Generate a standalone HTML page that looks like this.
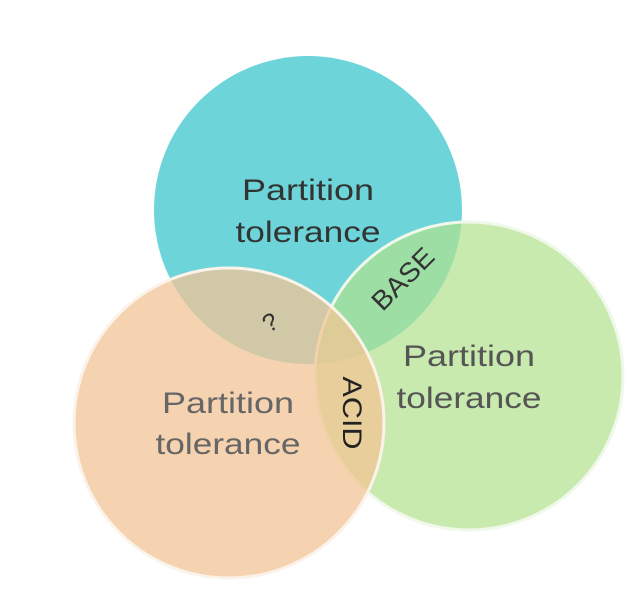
<!DOCTYPE html>
<html><head><style>html,body{margin:0;padding:0;background:#fff}</style></head><body>
<svg width="642" height="604" xmlns="http://www.w3.org/2000/svg" style="display:block;font-family:'Liberation Sans',sans-serif">
<circle cx="308" cy="210" r="154" fill="#6dd5d9"/>
<circle cx="469" cy="376" r="154" fill="rgb(178,225,141)" fill-opacity="0.7" stroke="#f0f8ea" stroke-width="3"/>
<circle cx="229" cy="423" r="155" fill="rgb(243,196,148)" fill-opacity="0.74" stroke="#fbf3ea" stroke-width="3"/>
<g font-size="30" text-anchor="middle">
<text x="308" y="200" fill="#333" textLength="132" lengthAdjust="spacingAndGlyphs">Partition</text>
<text x="308" y="242" fill="#333" textLength="145" lengthAdjust="spacingAndGlyphs">tolerance</text>
<text x="469" y="366" fill="#555" textLength="132" lengthAdjust="spacingAndGlyphs">Partition</text>
<text x="469" y="408" fill="#555" textLength="145" lengthAdjust="spacingAndGlyphs">tolerance</text>
<text x="228" y="413" fill="#666" textLength="132" lengthAdjust="spacingAndGlyphs">Partition</text>
<text x="228" y="454" fill="#666" textLength="145" lengthAdjust="spacingAndGlyphs">tolerance</text>
</g>
<text x="403" y="288" font-size="27" text-anchor="middle" fill="#333" transform="rotate(-45 403 279)" textLength="76" lengthAdjust="spacingAndGlyphs">BASE</text>
<text x="270" y="331" font-size="25" text-anchor="middle" fill="#333" transform="rotate(-30 270 322)">?</text>
<text x="352" y="422" font-size="27" text-anchor="middle" fill="#222" transform="rotate(90 352 413)" textLength="73" lengthAdjust="spacingAndGlyphs">ACID</text>
</svg>
</body></html>
